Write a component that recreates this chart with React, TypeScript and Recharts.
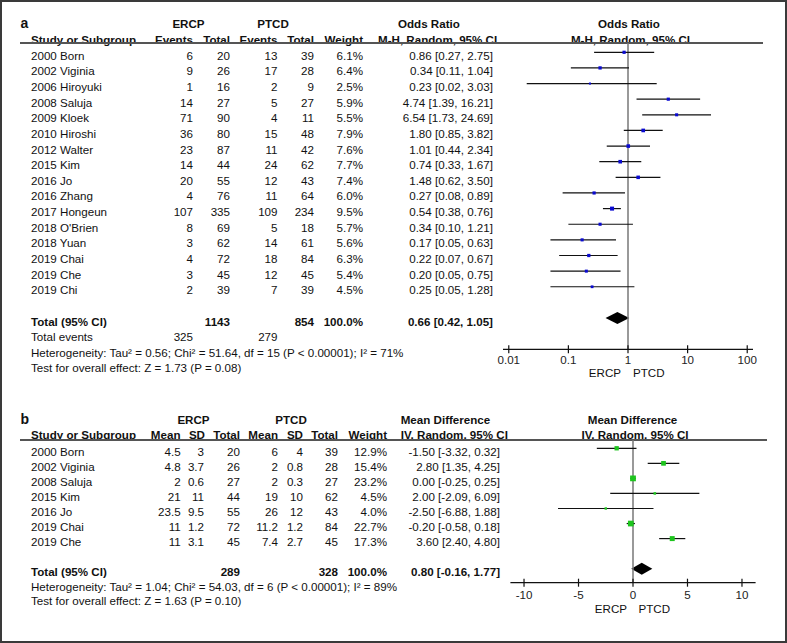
import React from "react";
import {
  ScatterChart, Scatter, XAxis, YAxis, ErrorBar, ReferenceLine, ReferenceArea,
} from "recharts";

// panel a: bleeding / odds ratio
const studiesA = [
  "2000 Born", "2002 Viginia", "2006 Hiroyuki", "2008 Saluja", "2009 Kloek", "2010 Hiroshi",
  "2012 Walter", "2015 Kim", "2016 Jo", "2016 Zhang", "2017 Hongeun", "2018 O'Brien",
  "2018 Yuan", "2019 Chai", "2019 Che", "2019 Chi",
];
const ercpEventsA = [6, 9, 1, 14, 71, 36, 23, 14, 20, 4, 107, 8, 3, 4, 3, 2];
const ercpTotalA = [20, 26, 16, 27, 90, 80, 87, 44, 55, 76, 335, 69, 62, 72, 45, 39];
const ptcdEventsA = [13, 17, 2, 5, 4, 15, 11, 24, 12, 11, 109, 5, 14, 18, 12, 7];
const ptcdTotalA = [39, 28, 9, 27, 11, 48, 42, 62, 43, 64, 234, 18, 61, 84, 45, 39];
const weightA = [6.1, 6.4, 2.5, 5.9, 5.5, 7.9, 7.6, 7.7, 7.4, 6.0, 9.5, 5.7, 5.6, 6.3, 5.4, 4.5];
const orA = [0.86, 0.34, 0.23, 4.74, 6.54, 1.8, 1.01, 0.74, 1.48, 0.27, 0.54, 0.34, 0.17, 0.22, 0.2, 0.25];
const loA = [0.27, 0.11, 0.02, 1.39, 1.73, 0.85, 0.44, 0.33, 0.62, 0.08, 0.38, 0.1, 0.05, 0.07, 0.05, 0.05];
const hiA = [2.75, 1.04, 3.03, 16.21, 24.69, 3.82, 2.34, 1.67, 3.5, 0.89, 0.76, 1.21, 0.63, 0.67, 0.75, 1.28];
const totalA = { ercp: 1143, ptcd: 854, ercpEvents: 325, ptcdEvents: 279, est: 0.66, lo: 0.42, hi: 1.05 };
const ticksA = [0.01, 0.1, 1, 10, 100];

// panel b: mean difference
const studiesB = ["2000 Born", "2002 Viginia", "2008 Saluja", "2015 Kim", "2016 Jo", "2019 Chai", "2019 Che"];
const ercpMeanB = [4.5, 4.8, 2, 21, 23.5, 11, 11];
const ercpSdB = [3, 3.7, 0.6, 11, 9.5, 1.2, 3.1];
const ercpTotalB = [20, 26, 27, 44, 55, 72, 45];
const ptcdMeanB = [6, 2, 2, 19, 26, 11.2, 7.4];
const ptcdSdB = [4, 0.8, 0.3, 10, 12, 1.2, 2.7];
const ptcdTotalB = [39, 28, 27, 62, 43, 84, 45];
const weightB = [12.9, 15.4, 23.2, 4.5, 4.0, 22.7, 17.3];
const mdB = [-1.5, 2.8, 0, 2, -2.5, -0.2, 3.6];
const loB = [-3.32, 1.35, -0.25, -2.09, -6.88, -0.58, 2.4];
const hiB = [0.32, 4.25, 0.25, 6.09, 1.88, 0.18, 4.8];
const totalB = { ercp: 289, ptcd: 328, est: 0.8, lo: -0.16, hi: 1.77 };
const ticksB = [-10, -5, 0, 5, 10];

const FONT = "'Liberation Sans', Arial, sans-serif";
const FS = 11.6;

const dataA = orA.map((v, i) => ({ x: v, y: i, w: weightA[i], err: [v - loA[i], hiA[i] - v] }));
const dataB = mdB.map((v, i) => ({ x: v, y: i, w: weightB[i], err: [v - loB[i], hiB[i] - v] }));

const ci = (e: number, l: number, h: number) => `${e.toFixed(2)} [${l.toFixed(2)}, ${h.toFixed(2)}]`;

function Txt({ x, y, children, align = "left", bold = false, size }: {
  x: number; y: number; children: React.ReactNode; align?: "left" | "right" | "center"; bold?: boolean; size?: number;
}) {
  const tf = align === "right" ? "translateX(-100%)" : align === "center" ? "translateX(-50%)" : undefined;
  return (
    <div style={{
      position: "absolute", left: x, top: y - 7, lineHeight: "14px", whiteSpace: "nowrap",
      transform: tf, fontWeight: bold ? 700 : 400, fontSize: size,
    }}>{children}</div>
  );
}

const squareShape = (color: string, k: number) => (p: any) => {
  const s = k * Math.sqrt(p.payload.w);
  return <rect x={p.cx - s / 2} y={p.cy - s / 2} width={s} height={s} fill={color} />;
};

const diamond = (p: any) => {
  const cy = p.y + p.height / 2;
  const cx = p.x + p.width / 2;
  return (
    <polygon
      points={`${p.x},${cy} ${cx},${cy - 6} ${p.x + p.width},${cy} ${cx},${cy + 6}`}
      fill="#000"
    />
  );
};

const axisTick = (off: number) => (p: any) => (
  <g>
    <line x1={p.x} x2={p.x} y1={p.y - 4} y2={p.y + 4} stroke="#111" strokeWidth={1.2} />
    <text x={p.x} y={p.y + off} textAnchor="middle" fontSize={FS} fontFamily={FONT} fill="#222">
      {p.payload.value}
    </text>
  </g>
);

const rowA = (i: number) => 55.8 + 15.63 * i;
const rowB = (i: number) => 451.6 + 15.05 * i;

export default function App() {
  return (
    <div style={{
      position: "absolute", left: 0, top: 0, width: 787, height: 643, boxSizing: "border-box",
      border: "2px solid #3a3a3a", background: "#fff", fontFamily: FONT, fontSize: FS, color: "#111",
    }}>
      <div style={{ position: "absolute", left: -2, top: -2, width: 787, height: 643 }}>
        {/* ---------- panel a ---------- */}
        <Txt x={20.5} y={22.8} bold size={14}>a</Txt>
        <Txt x={188.5} y={23.7} align="center" bold>ERCP</Txt>
        <Txt x={273} y={23.7} align="center" bold>PTCD</Txt>
        <Txt x={398} y={23.7} bold>Odds Ratio</Txt>
        <Txt x={629} y={23.7} align="center" bold>Odds Ratio</Txt>
        <Txt x={31} y={39.5} bold>Study or Subgroup</Txt>
        <Txt x={193} y={39.5} align="right" bold>Events</Txt>
        <Txt x={230} y={39.5} align="right" bold>Total</Txt>
        <Txt x={277.5} y={39.5} align="right" bold>Events</Txt>
        <Txt x={314} y={39.5} align="right" bold>Total</Txt>
        <Txt x={363} y={39.5} align="right" bold>Weight</Txt>
        <Txt x={378} y={39.5} bold>M-H, Random, 95% CI</Txt>
        <Txt x={630.5} y={39.5} align="center" bold>M-H, Random, 95% CI</Txt>
        <div style={{ position: "absolute", left: 20, top: 42.3, width: 743, height: 1.5, background: "#555" }} />

        {studiesA.map((s, i) => (
          <React.Fragment key={s}>
            <Txt x={31} y={rowA(i)}>{s}</Txt>
            <Txt x={193} y={rowA(i)} align="right">{ercpEventsA[i]}</Txt>
            <Txt x={230} y={rowA(i)} align="right">{ercpTotalA[i]}</Txt>
            <Txt x={277.5} y={rowA(i)} align="right">{ptcdEventsA[i]}</Txt>
            <Txt x={314} y={rowA(i)} align="right">{ptcdTotalA[i]}</Txt>
            <Txt x={363} y={rowA(i)} align="right">{weightA[i].toFixed(1)}%</Txt>
            <Txt x={493} y={rowA(i)} align="right">{ci(orA[i], loA[i], hiA[i])}</Txt>
          </React.Fragment>
        ))}
        <Txt x={31} y={rowA(17)} bold>Total (95% CI)</Txt>
        <Txt x={230} y={rowA(17)} align="right" bold>{totalA.ercp}</Txt>
        <Txt x={314} y={rowA(17)} align="right" bold>{totalA.ptcd}</Txt>
        <Txt x={363} y={rowA(17)} align="right" bold>100.0%</Txt>
        <Txt x={493} y={rowA(17)} align="right" bold>{ci(totalA.est, totalA.lo, totalA.hi)}</Txt>
        <Txt x={31} y={rowA(18)}>Total events</Txt>
        <Txt x={193} y={rowA(18)} align="right">{totalA.ercpEvents}</Txt>
        <Txt x={277.5} y={rowA(18)} align="right">{totalA.ptcdEvents}</Txt>
        <Txt x={31} y={rowA(19)}>Heterogeneity: Tau² = 0.56; Chi² = 51.64, df = 15 (P &lt; 0.00001); I² = 71%</Txt>
        <Txt x={31} y={rowA(20)}>Test for overall effect: Z = 1.73 (P = 0.08)</Txt>

        <div style={{ position: "absolute", left: 480, top: 30 }}>
          <ScatterChart width={300} height={370} margin={{ top: 12.9, right: 27, bottom: 0, left: 23 }}>
            <XAxis
              type="number" dataKey="x" scale="log" domain={[0.008, 125]} ticks={ticksA}
              allowDataOverflow interval={0} height={50.7} tickLine={false} tickSize={0} tickMargin={0}
              axisLine={{ stroke: "#111", strokeWidth: 1.2 }} tick={axisTick(14.7)}
            />
            <YAxis type="number" dataKey="y" domain={[-0.6, 19]} reversed hide allowDataOverflow />
            <ReferenceLine x={1} stroke="#777" strokeWidth={1.5} />
            <Scatter data={dataA} isAnimationActive={false} shape={squareShape("#0a0ad0", 1.3)}>
              <ErrorBar dataKey="err" direction="x" width={0} stroke="#111" strokeWidth={1.2} isAnimationActive={false} />
            </Scatter>
            <ReferenceArea x1={totalA.lo} x2={totalA.hi} y1={16.9} y2={17.1} shape={diamond} />
          </ScatterChart>
        </div>
        <Txt x={621} y={373.3} align="right">ERCP</Txt>
        <Txt x={633} y={373.3}>PTCD</Txt>

        {/* ---------- panel b ---------- */}
        <Txt x={20.5} y={419} bold size={14}>b</Txt>
        <Txt x={193.5} y={420} align="center" bold>ERCP</Txt>
        <Txt x={291} y={420} align="center" bold>PTCD</Txt>
        <Txt x={400.7} y={420} bold>Mean Difference</Txt>
        <Txt x={632.5} y={420} align="center" bold>Mean Difference</Txt>
        <Txt x={31} y={434.8} bold>Study or Subgroup</Txt>
        <Txt x={180.5} y={434.8} align="right" bold>Mean</Txt>
        <Txt x={205} y={434.8} align="right" bold>SD</Txt>
        <Txt x={240} y={434.8} align="right" bold>Total</Txt>
        <Txt x={278} y={434.8} align="right" bold>Mean</Txt>
        <Txt x={303} y={434.8} align="right" bold>SD</Txt>
        <Txt x={338} y={434.8} align="right" bold>Total</Txt>
        <Txt x={387} y={434.8} align="right" bold>Weight</Txt>
        <Txt x={400.7} y={434.8} bold>IV, Random, 95% CI</Txt>
        <Txt x={635} y={434.8} align="center" bold>IV, Random, 95% CI</Txt>
        <div style={{ position: "absolute", left: 20, top: 439.3, width: 747, height: 1.5, background: "#555" }} />

        {studiesB.map((s, i) => (
          <React.Fragment key={s}>
            <Txt x={31} y={rowB(i)}>{s}</Txt>
            <Txt x={180.7} y={rowB(i)} align="right">{ercpMeanB[i]}</Txt>
            <Txt x={204} y={rowB(i)} align="right">{ercpSdB[i]}</Txt>
            <Txt x={240} y={rowB(i)} align="right">{ercpTotalB[i]}</Txt>
            <Txt x={278} y={rowB(i)} align="right">{ptcdMeanB[i]}</Txt>
            <Txt x={303} y={rowB(i)} align="right">{ptcdSdB[i]}</Txt>
            <Txt x={338} y={rowB(i)} align="right">{ptcdTotalB[i]}</Txt>
            <Txt x={387} y={rowB(i)} align="right">{weightB[i].toFixed(1)}%</Txt>
            <Txt x={500} y={rowB(i)} align="right">{ci(mdB[i], loB[i], hiB[i])}</Txt>
          </React.Fragment>
        ))}
        <Txt x={31} y={rowB(8)} bold>Total (95% CI)</Txt>
        <Txt x={240} y={rowB(8)} align="right" bold>{totalB.ercp}</Txt>
        <Txt x={338} y={rowB(8)} align="right" bold>{totalB.ptcd}</Txt>
        <Txt x={387} y={rowB(8)} align="right" bold>100.0%</Txt>
        <Txt x={500} y={rowB(8)} align="right" bold>{ci(totalB.est, totalB.lo, totalB.hi)}</Txt>
        <Txt x={31} y={586.7}>Heterogeneity: Tau² = 1.04; Chi² = 54.03, df = 6 (P &lt; 0.00001); I² = 89%</Txt>
        <Txt x={31} y={600.8}>Test for overall effect: Z = 1.63 (P = 0.10)</Txt>

        <div style={{ position: "absolute", left: 480, top: 420 }}>
          <ScatterChart width={300} height={215} margin={{ top: 20, right: 24.4, bottom: 0, left: 30.4 }}>
            <XAxis
              type="number" dataKey="x" domain={[-11.25, 11.25]} ticks={ticksB}
              allowDataOverflow interval={0} height={52.3} tickLine={false} tickSize={0} tickMargin={0}
              axisLine={{ stroke: "#111", strokeWidth: 1.2 }} tick={axisTick(16)}
            />
            <YAxis type="number" dataKey="y" domain={[-0.55, 8.93]} reversed hide allowDataOverflow />
            <ReferenceLine x={0} stroke="#777" strokeWidth={1.5} />
            <Scatter data={dataB} isAnimationActive={false} shape={squareShape("#1ec41e", 1.2)}>
              <ErrorBar dataKey="err" direction="x" width={0} stroke="#111" strokeWidth={1.2} isAnimationActive={false} />
            </Scatter>
            <ReferenceArea x1={totalB.lo} x2={totalB.hi} y1={7.9} y2={8.1} shape={diamond} />
          </ScatterChart>
        </div>
        <Txt x={627} y={609.3} align="right">ERCP</Txt>
        <Txt x={638.5} y={609.3}>PTCD</Txt>
      </div>
    </div>
  );
}
